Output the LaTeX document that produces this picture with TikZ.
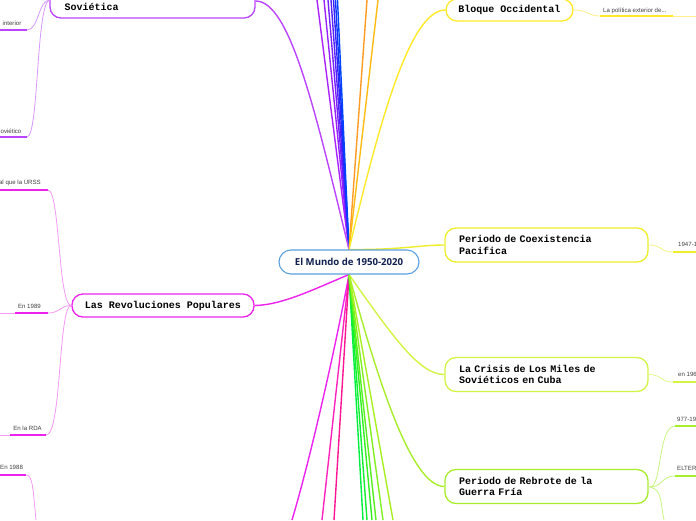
\documentclass[tikz,border=0pt]{standalone}
\usepackage{fontspec}
\setmainfont{Open Sans}
\newfontfamily\monob{Liberation Mono}
\newfontfamily\smallsans{Liberation Sans}
\usetikzlibrary{backgrounds}
\definecolor{cblue}{HTML}{5AA0E0}
\definecolor{cnavy}{HTML}{102050}
\definecolor{cpur}{HTML}{BB44FF}
\definecolor{cpurl}{HTML}{D699FF}
\definecolor{cmag}{HTML}{EE22EE}
\definecolor{cmagl}{HTML}{F499F4}
\definecolor{cpink}{HTML}{FF1493}
\definecolor{cpink2}{HTML}{FF22BB}
\definecolor{cyel}{HTML}{FFEA2A}
\definecolor{cyell}{HTML}{FFF08A}
\definecolor{ccoex}{HTML}{EEEE2A}
\definecolor{ccoexl}{HTML}{F4F48A}
\definecolor{ccri}{HTML}{D2F545}
\definecolor{ccril}{HTML}{E2F98F}
\definecolor{creb}{HTML}{A8EE2A}
\definecolor{crebl}{HTML}{C8F580}
\definecolor{corange}{HTML}{FF9A22}
\definecolor{cgold}{HTML}{FFBB11}
\definecolor{tA}{HTML}{AA22FF}
\definecolor{tB}{HTML}{9922FF}
\definecolor{tC}{HTML}{7722FF}
\definecolor{tD}{HTML}{5522FF}
\definecolor{tE}{HTML}{3322FF}
\definecolor{tF}{HTML}{1133FF}
\definecolor{tG}{HTML}{0044FF}
\definecolor{gA}{HTML}{00F040}
\definecolor{gB}{HTML}{10F030}
\definecolor{gC}{HTML}{30F020}
\definecolor{gD}{HTML}{55F020}
\definecolor{gE}{HTML}{80F020}
\definecolor{gF}{HTML}{A8F020}
\begin{document}
\begin{tikzpicture}[x=1pt,y=-1pt,
  topic/.style={draw, line width=1.3pt, fill=white, rounded corners=11pt,
    font=\monob\bfseries\fontsize{10}{11.5}\selectfont, text=black},
  twoline/.style={topic, minimum width=203pt, text width=175pt, inner xsep=14pt,
    align=left, minimum height=34pt},
  branch/.style={line width=1.4pt},
  twig/.style={line width=0.8pt},
  uline/.style={line width=1.6pt},
  lbl/.style={font=\smallsans\fontsize{6.1}{7}\selectfont, text=black!75, inner sep=0pt}]
\useasboundingbox (0,0) rectangle (696,520);
\clip (0,0) rectangle (696,520);

% ---------- main nodes ----------
\node[draw=cblue, line width=1.1pt, fill=white, rounded corners=12pt,
  minimum width=140pt, minimum height=24pt,
  font=\bfseries\fontsize{9.6}{10}\selectfont, text=cnavy] (c) at (349,262) {El Mundo de 1950-2020};
\node[topic, draw=cyel, minimum width=127pt, minimum height=22pt] (bo) at (509.5,10) {Bloque Occidental};
\node[twoline, draw=ccoex] (coex) at (546.5,245) {Periodo de Coexistencia\\Pacifica};
\node[twoline, draw=ccri] (cri) at (546.5,374.5) {La Crisis de Los Miles de\\Soviéticos en Cuba};
\node[twoline, draw=creb] (reb) at (546.5,486.5) {Periodo de Rebrote de la\\Guerra Fría};
\node[topic, draw=cpur, minimum width=205pt, text width=176pt, inner xsep=14.5pt,
  align=left, minimum height=34pt] (sov) at (152.5,1) {\strut\\Soviética};
\node[topic, draw=cmag, minimum width=182pt, minimum height=23pt] (rev) at (163,305.5) {Las Revoluciones Populares};

% ---------- small labels ----------
\node[lbl, anchor=base west] (lbo) at (603,12) {La política exterior de...};
\node[lbl, anchor=base west] (lcoex) at (678,246.5) {1947-1};
\node[lbl, anchor=base west] (lcri) at (678,376.5) {en 196};
\node[lbl, anchor=base west] (lreb1) at (677,421.5) {977-19};
\node[lbl, anchor=base west] (lreb2) at (677,470.5) {ELTER};
\node[lbl, anchor=base east] (lsov1) at (21.5,25.5) {interior};
\node[lbl, anchor=base east] (lsov2) at (21.5,133.5) {oviético};
\node[lbl, anchor=base east] (lrev1) at (41,184.5) {ual que la URSS};
\node[lbl, anchor=base east] (lrev2) at (41,308.5) {En 1989};
\node[lbl, anchor=base east] (lrev3) at (42,430.5) {En la RDA};
\node[lbl, anchor=base west] (l88) at (0,469.5) {En 1988};

% ---------- coordinates ----------
\coordinate (t1) at (317,0);
\coordinate (t2) at (324,0);
\coordinate (t3) at (328,0);
\coordinate (t4) at (331,0);
\coordinate (t5) at (333.5,0);
\coordinate (t6) at (335.5,0);
\coordinate (t7) at (337.5,0);
\coordinate (t8) at (367,0);
\coordinate (t9) at (378,0);
\coordinate (b1) at (292,520);
\coordinate (b2) at (322,520);
\coordinate (b3) at (334,520);
\coordinate (g1) at (363,520);
\coordinate (g2) at (367,520);
\coordinate (g3) at (372,520);
\coordinate (g4) at (376,520);
\coordinate (g5) at (383,520);
\coordinate (g6) at (393,520);
\coordinate (bo1) at (600,16);  \coordinate (bo2) at (673,16);  \coordinate (bo3) at (696,16);
\coordinate (co1) at (673,252); \coordinate (co2) at (696,252);
\coordinate (cr1) at (673,382); \coordinate (cr2) at (696,382);
\coordinate (rb0) at (650,487);
\coordinate (rb1) at (675,426); \coordinate (rb2) at (696,426);
\coordinate (rb3) at (675,476); \coordinate (rb4) at (696,476);
\coordinate (rb5) at (664,520);
\coordinate (sv0) at (50,0);
\coordinate (sv1) at (27,30);   \coordinate (sv1a) at (0,30);
\coordinate (sv2) at (27,137);  \coordinate (sv2a) at (0,137);
\coordinate (rv1) at (48,190);  \coordinate (rv1a) at (0,190);
\coordinate (rv2) at (48,313);  \coordinate (rv2a) at (15,313); \coordinate (rv2b) at (0,313);
\coordinate (rv3) at (46,435);  \coordinate (rv3a) at (10,435); \coordinate (rv3b) at (0,435);
\coordinate (e88a) at (0,475);  \coordinate (e88b) at (26,475); \coordinate (e88c) at (36,520);

\begin{pgfonlayer}{background}
\clip (0,0) rectangle (696,520);
\fill[white] (0,0) rectangle (696,520);
% top bundle
\draw[branch, tA] (c.north) -- (t1);
\draw[branch, tB] (c.north) -- (t2);
\draw[branch, tC] (c.north) -- (t3);
\draw[branch, tD] (c.north) -- (t4);
\draw[branch, tE] (c.north) -- (t5);
\draw[branch, tF] (c.north) -- (t6);
\draw[branch, tG] (c.north) -- (t7);
\draw[branch, corange] (c.north) -- (t8);
\draw[branch, cgold] (c.north) -- (t9);
% main topic branches
\draw[branch, cpur] (sov.east) .. controls (290,1) and (315,110) .. (c.north);
\draw[branch, cyel] (c.north) .. controls (380,120) and (410,10) .. (bo.west);
\draw[branch, ccoex] (c.north) .. controls (400,250) and (420,245) .. (coex.west);
\draw[branch, ccri] (c.south) .. controls (395,340) and (420,374.5) .. (cri.west);
\draw[branch, creb] (c.south) .. controls (375,370) and (410,486.5) .. (reb.west);
\draw[branch, cmag] (rev.east) .. controls (282,305) and (312,290) .. (c.south);
% bottom bundle
\draw[branch, cmag] (c.south) .. controls (335,350) and (310,460) .. (b1);
\draw[branch, cpink2] (c.south) -- (b2);
\draw[branch, cpink] (c.south) -- (b3);
\draw[branch, gA] (c.south) -- (g1);
\draw[branch, gB] (c.south) -- (g2);
\draw[branch, gC] (c.south) -- (g3);
\draw[branch, gD] (c.south) -- (g4);
\draw[branch, gE] (c.south) -- (g5);
\draw[branch, gF] (c.south) -- (g6);
\end{pgfonlayer}

% ---------- sub-branches ----------
\draw[twig, cyell] (bo.east) .. controls (588,10) and (588,16) .. (bo1);
\draw[uline, cyel] (bo1) -- (bo2);
\draw[twig, cyell] (bo2) -- (bo3);

\draw[twig, ccoexl] (coex.east) .. controls (662,245) and (660,252) .. (co1);
\draw[uline, ccoex] (co1) -- (co2);

\draw[twig, ccril] (cri.east) .. controls (662,374.5) and (660,382) .. (cr1);
\draw[uline, ccri] (cr1) -- (cr2);

\draw[twig, crebl] (reb.east) -- (rb0);
\draw[twig, crebl] (rb0) .. controls (662,487) and (658,426) .. (rb1);
\draw[uline, creb] (rb1) -- (rb2);
\draw[twig, crebl] (rb0) .. controls (662,487) and (662,476) .. (rb3);
\draw[uline, creb] (rb3) -- (rb4);
\draw[twig, crebl] (rb0) .. controls (662,490) and (660,500) .. (rb5);

\draw[twig, cpurl] (sv0) .. controls (38,0) and (39,30) .. (sv1);
\draw[uline, cpur] (sv1) -- (sv1a);
\draw[twig, cpurl] (sv0) .. controls (36,0) and (39,137) .. (sv2);
\draw[uline, cpur] (sv2) -- (sv2a);

\draw[twig, cmagl] (rev.west) .. controls (58,305.5) and (60,190) .. (rv1);
\draw[uline, cmag] (rv1) -- (rv1a);
\draw[twig, cmagl] (rev.west) .. controls (60,305.5) and (60,313) .. (rv2);
\draw[uline, cmag] (rv2) -- (rv2a);
\draw[twig, cmagl] (rv2a) -- (rv2b);
\draw[twig, cmagl] (rev.west) .. controls (58,305.5) and (62,435) .. (rv3);
\draw[uline, cmag] (rv3) -- (rv3a);
\draw[twig, cmagl] (rv3a) -- (rv3b);

\draw[uline, cmag] (e88a) -- (e88b);
\draw[twig, cmagl] (e88b) .. controls (33,475) and (33,490) .. (e88c);
\end{tikzpicture}
\end{document}
